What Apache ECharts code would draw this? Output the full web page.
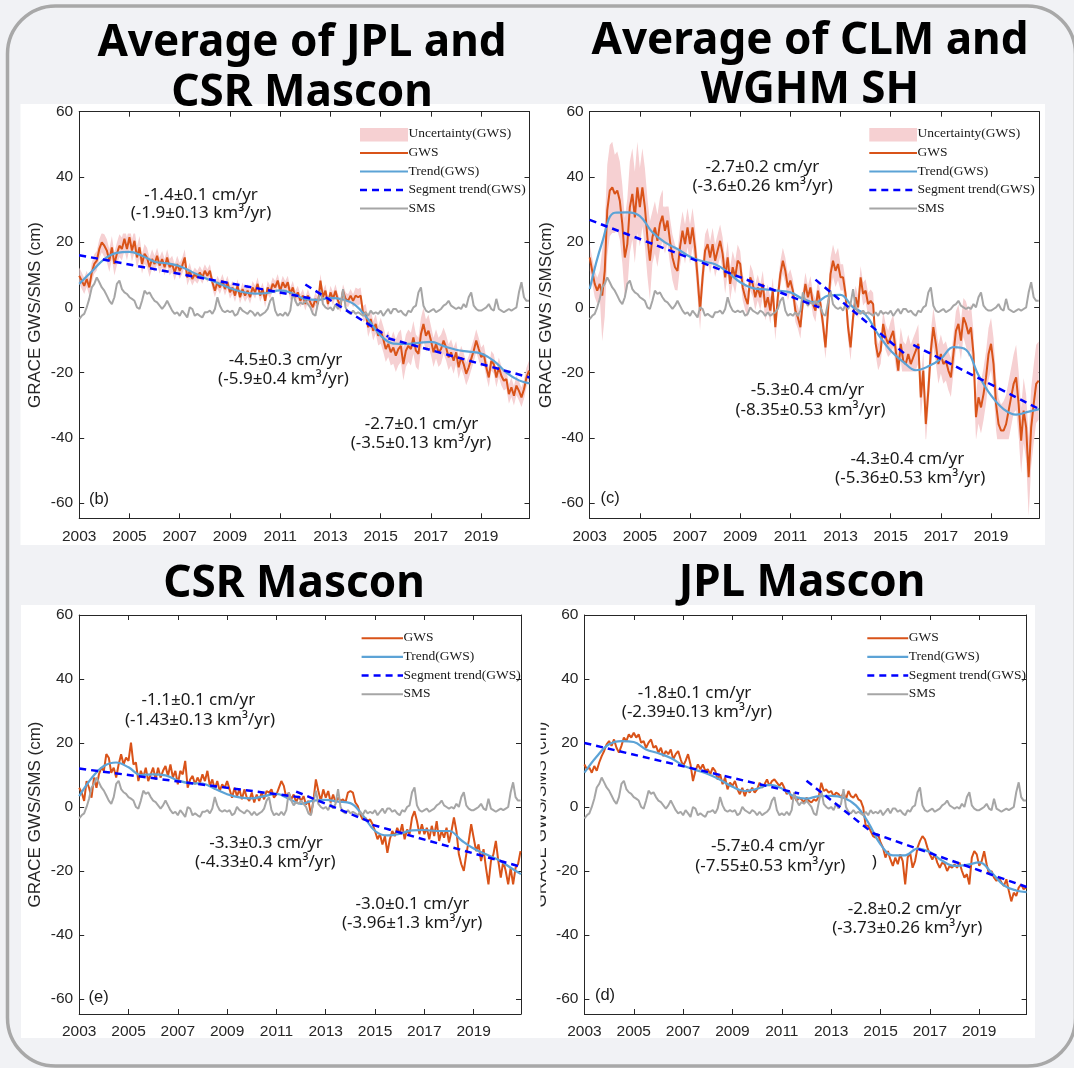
<!DOCTYPE html>
<html>
<head>
<meta charset="utf-8">
<title>GRACE GWS / SMS</title>
<script src="https://cdn.jsdelivr.net/npm/echarts@6/dist/echarts.min.js"></script>
<style>
html,body{margin:0;padding:0;background:#f1f2f5;}
#chart{width:1074px;height:1068px;}
</style>
</head>
<body>
<div id="chart"></div>
<script>
// ---------------- sampling grid (decimal years, 0.1-yr steps, 2003.0 .. 2020.9) ----------------
const years = [];
for (let i = 0; i < 180; i++) years.push(Math.round((2003 + i / 10) * 10) / 10);
const trendYears = [2003,2003.5,2004,2004.5,2005,2005.5,2006,2006.5,2007,2007.5,2008,2008.5,2009,2009.5,2010,2010.5,2011,2011.5,2012,2012.5,2013,2013.5,2014,2014.5,2015,2015.5,2016,2016.5,2017,2017.5,2018,2018.5,2019,2019.5,2020,2020.5,2020.92];
const xTickLabels = [2003,2005,2007,2009,2011,2013,2015,2017,2019];
const yTickLabels = [-60,-40,-20,0,20,40,60];

// ---------------- GWS (cm) ----------------
const gwsAvgMascon = [
 9.7,8.2,6.6,8.7,6.1,10.7,13.3,14.3,17.9,19.9,
 18.9,17.4,14.3,18.4,13.3,16.4,18.9,17.9,21.0,17.9,
 21.5,17.4,20.4,15.3,18.4,13.3,16.4,15.3,12.3,14.8,
 13.3,15.8,12.8,14.8,12.3,15.3,12.3,13.3,10.7,13.3,
 11.2,12.8,15.3,9.2,11.2,8.7,10.2,9.2,10.7,9.2,
 11.2,9.7,11.2,7.7,5.1,7.7,6.1,8.2,5.6,7.7,
 4.6,6.1,3.6,6.6,3.1,5.6,3.6,5.1,3.1,6.1,
 4.6,7.2,3.6,5.6,2.0,6.1,4.6,7.2,6.1,8.2,
 5.1,7.7,6.1,7.7,4.1,6.1,3.1,4.6,2.0,3.6,
 1.0,3.6,1.5,0.0,2.6,1.0,8.2,3.1,5.1,1.0,
 4.6,2.6,5.1,2.0,0.5,5.1,2.6,2.0,3.6,2.0,
 3.6,3.1,3.6,-2.0,-1.5,-6.1,-3.6,-7.2,-5.1,-8.7,
 -7.2,-9.7,-12.8,-11.2,-13.8,-12.3,-14.8,-12.8,-11.8,-17.4,
 -13.3,-11.8,-12.8,-9.2,-13.3,-14.3,-8.2,-5.1,-8.7,-7.2,
 -10.2,-13.8,-11.2,-13.8,-12.8,-10.2,-12.3,-15.3,-13.8,-16.4,
 -13.8,-18.4,-15.3,-17.4,-20.4,-18.4,-15.8,-13.3,-10.2,-12.8,
 -15.3,-14.3,-18.4,-21.5,-16.4,-17.4,-21.5,-18.4,-21.0,-22.5,
 -22.0,-26.6,-24.5,-27.1,-24.0,-25.6,-27.6,-25.1,-21.5,-19.4
];
const gwsClmWghm = [
 15.3,11.2,7.2,5.1,7.2,3.6,11.2,29.7,35.8,36.8,
 34.8,35.8,32.7,25.6,15.3,19.4,30.7,34.8,27.6,36.8,
 30.7,36.8,30.7,21.5,14.3,21.5,24.5,20.4,25.6,28.1,
 23.5,26.6,20.4,15.3,12.3,11.2,18.4,23.5,19.4,24.5,
 19.4,24.5,18.4,9.2,-1.0,9.2,17.4,19.4,15.3,19.4,
 14.3,17.4,20.4,16.4,9.2,15.3,7.2,12.3,9.2,14.3,
 13.3,6.1,3.1,1.0,9.2,7.2,3.1,6.1,3.1,7.2,
 0.0,3.1,-1.0,5.1,-6.1,3.1,10.2,14.3,11.2,6.1,
 8.2,5.1,-1.0,-3.1,-6.1,2.0,7.2,3.1,6.1,1.0,
 -1.0,5.1,1.0,-5.1,-12.3,-1.0,10.2,14.3,11.2,13.3,
 9.2,9.2,4.1,-6.1,-12.3,-3.1,3.1,0.0,9.2,4.1,
 5.1,1.0,2.0,1.0,-11.2,-15.3,-13.3,-5.1,-9.2,-11.2,
 -9.2,-7.2,-13.3,-19.4,-11.2,-16.4,-17.4,-14.3,-17.4,-15.3,
 -13.3,-11.2,-27.6,-19.4,-35.8,-25.6,-13.3,-6.1,-11.2,-17.4,
 -14.3,-17.4,-16.4,-19.4,-21.5,-14.3,-7.2,-5.1,-10.2,-3.1,
 -5.1,-8.2,-6.1,-14.3,-33.7,-27.6,-30.7,-26.6,-21.5,-14.3,
 -11.2,-17.4,-29.7,-35.8,-37.8,-37.8,-35.8,-31.7,-27.6,-23.5,
 -21.5,-29.7,-40.9,-31.7,-36.8,-52.1,-36.8,-29.7,-23.5,-22.5
];
const gwsCsrMascon = [
 6.0,4.5,1.9,8.1,6.0,2.9,9.2,6.0,10.2,12.3,
 11.3,16.5,15.4,10.7,12.3,9.2,13.3,16.5,13.3,15.4,
 14.4,20.1,13.3,13.9,8.1,11.3,9.2,12.3,8.1,10.2,
 12.3,8.6,12.3,9.2,11.3,12.8,9.7,13.3,9.2,11.3,
 7.1,11.3,10.2,14.4,6.0,8.6,9.7,7.1,9.2,7.6,
 10.2,8.1,11.3,6.6,8.6,5.5,8.1,5.0,7.1,6.0,
 8.1,5.5,2.9,6.0,3.4,5.5,2.4,5.5,2.9,1.9,
 4.5,1.4,3.9,1.9,4.5,2.4,5.0,4.5,5.5,2.9,
 3.9,6.0,8.1,6.6,2.9,4.5,2.4,3.9,1.4,3.4,
 1.9,3.4,0.8,1.9,-2.3,1.9,8.6,5.0,1.9,5.5,
 2.9,5.0,1.4,3.9,1.4,2.9,1.9,2.4,1.4,4.5,
 5.0,4.5,1.4,0.3,-2.3,-3.9,-3.3,-4.4,-3.9,-5.4,
 -7.5,-10.1,-8.5,-11.7,-9.1,-14.3,-10.1,-7.5,-9.1,-6.5,
 -8.5,-5.4,-10.1,-7.0,-8.5,-3.3,-1.3,-4.4,-8.5,-5.4,
 -8.5,-6.5,-10.1,-5.9,-9.1,-4.4,-10.6,-7.5,-9.6,-6.5,
 -11.1,-7.5,-3.3,-7.5,-14.8,-17.9,-20.0,-14.8,-10.6,-5.4,
 -9.6,-13.8,-11.7,-16.9,-13.2,-19.0,-24.2,-16.9,-14.8,-10.6,
 -16.9,-22.1,-16.9,-20.0,-24.2,-19.0,-24.2,-19.0,-17.9,-13.8
];
const gwsJplMascon = [
 13.3,11.8,12.3,10.7,12.8,11.3,13.9,15.9,17.5,19.6,
 20.6,19.1,21.1,18.5,17.0,19.1,21.7,20.6,22.7,21.7,
 23.2,21.7,22.7,20.1,20.6,18.5,20.1,21.1,18.5,19.1,
 17.0,18.5,15.9,17.5,16.5,18.0,14.9,16.5,17.5,14.9,
 12.8,14.4,16.5,13.3,8.1,11.3,13.3,11.8,13.3,11.3,
 11.8,10.2,12.3,11.3,8.6,10.2,7.1,9.2,5.5,7.6,
 6.6,8.1,5.5,4.0,6.0,3.4,5.5,4.5,6.0,4.5,
 5.5,7.6,6.0,7.1,8.6,6.6,8.1,8.6,7.6,6.6,
 7.6,6.0,4.0,5.0,2.4,3.4,1.9,2.9,2.4,1.4,
 2.9,1.9,1.4,2.4,1.9,3.4,7.6,5.0,5.5,4.5,
 5.0,3.4,4.5,4.0,2.9,4.5,2.4,5.0,3.4,2.9,
 4.0,2.4,1.9,-0.2,-5.9,-5.9,-7.5,-9.1,-9.6,-8.5,
 -11.1,-12.7,-15.8,-13.8,-16.4,-18.4,-15.8,-17.9,-14.8,-16.9,
 -24.2,-15.8,-14.3,-19.0,-16.9,-12.7,-10.6,-9.1,-10.1,-12.7,
 -14.8,-16.4,-14.8,-17.4,-19.0,-17.4,-17.9,-20.0,-18.4,-19.0,
 -17.9,-19.0,-17.4,-20.0,-22.1,-21.0,-24.2,-15.8,-13.8,-14.8,
 -18.4,-16.9,-13.8,-17.9,-21.0,-20.0,-22.1,-23.1,-22.1,-23.6,
 -24.7,-22.6,-26.2,-29.5,-26.8,-27.8,-25.2,-24.2,-25.7,-25.2
];

// ---------------- SMS (cm), same in every panel ----------------
const sms = [
 -3.6,-2.6,-2.0,0.0,2.6,6.1,7.2,9.2,7.7,6.1,
 5.1,3.6,2.0,1.0,3.1,7.2,8.2,5.6,4.6,4.1,
 3.1,2.6,2.0,0.0,-0.5,2.0,5.1,4.1,4.6,3.1,
 2.0,1.5,0.5,-0.5,0.5,2.0,0.5,-1.0,-2.0,-1.5,
 -2.6,-1.0,-2.0,-3.1,0.0,-0.5,-2.6,-2.0,-2.6,-3.1,
 -1.5,-1.5,-1.0,-2.0,-0.5,3.1,0.5,-1.0,-1.5,-1.0,
 -1.5,-1.0,-2.6,-2.0,0.0,-1.0,-1.5,-2.0,-1.0,-1.5,
 -2.6,-1.5,-2.6,-2.0,-1.5,-0.5,2.0,3.1,-1.0,-2.6,
 -2.0,-2.6,-1.5,-2.6,-1.0,4.6,2.0,0.5,1.5,1.0,
 2.0,1.0,0.0,-2.0,-2.6,1.5,5.1,1.0,0.0,-0.5,
 0.0,-1.0,1.0,-0.5,1.0,5.6,0.0,-1.5,-2.0,-1.0,
 -2.0,-1.5,-2.0,-2.6,-1.5,-2.6,-1.0,-2.0,-1.5,-2.0,
 -1.0,-2.6,-1.5,-0.5,-2.0,-0.5,-0.5,-1.5,-1.0,-2.0,
 -2.6,-1.0,-1.5,0.0,0.5,4.6,6.1,0.5,-1.0,-1.5,
 -1.0,-0.5,-1.5,-1.0,-0.5,0.5,1.0,2.0,0.5,0.0,
 -0.5,0.0,-0.5,1.0,0.0,3.1,4.6,0.5,-0.5,-1.0,
 -1.0,-0.5,0.0,1.0,-0.5,-1.0,2.6,-0.5,-1.0,-1.5,
 -1.0,-0.5,-1.0,-0.5,0.0,4.6,7.7,3.1,2.0,2.0
];

// ---------------- Trend(GWS) (cm) at trendYears ----------------
const trendAvgMascon = [7.2,11.0,14.8,16.7,17.0,15.8,14.0,13.5,12.6,10.8,9.0,7.5,5.9,4.7,4.2,4.4,5.2,4.3,2.5,2.3,2.9,2.4,0.6,-3.7,-8.7,-11.1,-11.2,-10.9,-10.6,-11.9,-13.0,-13.6,-14.2,-16.4,-20.0,-22.4,-23.3];
const trendClmWghm = [5.6,20.0,29.0,29.1,28.0,23.0,19.9,17.9,15.5,14.1,13.2,10.8,7.7,5.9,5.5,5.1,4.6,2.6,1.5,3.6,3.8,0.0,-2.3,-8.3,-13.3,-16.7,-19.3,-18.1,-15.8,-12.2,-13.0,-20.8,-27.0,-31.2,-32.9,-32.0,-31.2];
const trendCsrMascon = [3.4,9.0,12.8,13.9,12.4,10.0,10.2,9.9,8.3,7.4,7.3,5.7,4.0,3.0,2.7,3.4,4.1,2.6,1.0,2.0,2.2,1.7,1.2,-2.6,-7.5,-8.9,-8.4,-7.3,-7.2,-7.5,-7.5,-10.4,-13.0,-14.8,-16.5,-19.0,-21.0];
const trendJplMascon = [10.7,15.8,19.6,20.6,20.3,18.0,16.8,15.3,13.0,11.6,10.3,8.5,6.3,5.0,5.7,6.9,5.8,3.3,2.6,3.4,3.5,2.9,0.5,-4.8,-11.7,-15.1,-15.1,-13.0,-14.1,-16.8,-18.4,-18.1,-17.3,-20.5,-24.5,-26.1,-26.6];

// ---------------- Segment trend(GWS): [year, cm] start / end of each segment ----------------
const segStartAvgMascon = [[2003.0,16.0],[2012.0,7.0],[2015.3,-9.5]];
const segEndAvgMascon   = [[2012.2,2.8],[2015.3,-9.0],[2020.92,-21.5]];
const segStartClmWghm   = [[2003.0,26.8],[2012.0,8.5],[2015.9,-11.5]];
const segEndClmWghm     = [[2012.15,0.0],[2015.6,-14.5],[2020.92,-31.2]];
const segStartCsrMascon = [[2003.0,12.0],[2011.8,4.8],[2014.9,-5.6]];
const segEndCsrMascon   = [[2012.0,3.0],[2014.9,-5.0],[2020.92,-18.7]];
const segStartJplMascon = [[2003.0,20.0],[2012.0,8.2],[2014.7,-8.2]];
const segEndJplMascon   = [[2011.7,4.2],[2014.7,-8.2],[2020.92,-25.0]];

// ---------------- Uncertainty half-width (cm), one value per half year from 2003.0 ----------------
const uncAvgMascon = [2.5,3,3.5,3.5,3.5,3,2.5,2.5,2.5,2,2,2,2,2,2,2,2,2,2,2,2,2,2.5,3,4,5,5,5,4.5,4,3.5,3.5,3,3,3,3];
const uncClmWghm   = [4,14,12,14,12,8,7,6,6,5,5,5,4,4,4,4,3.5,3.5,3.5,5,4,3.5,3.5,4,5,6,6,6,6,6,7,8,8,9,10,12];

// ---------------- styling ----------------
const C_GWS = '#d95319', C_TREND = '#5ca3d6', C_SEG = '#0000ff', C_SMS = '#a6a6a6', C_BAND = '#f6d0d2';
const C_AXIS = '#262626', C_TEXT = '#1a1a1a';
const X_MIN = 2003, X_MAX = 2020.92, Y_MIN = -64.7, Y_MAX = 60;

const panels = [
  { grid:{left:79.2, top:111.7, width:450.3, height:406.6},
    gws:gwsAvgMascon, trend:trendAvgMascon, segS:segStartAvgMascon, segE:segEndAvgMascon, unc:uncAvgMascon,
    yName:'GRACE GWS/SMS (cm)',
    legend:{x0:360, x1:408, rows:[133.5,152.5,171,189.5,208]},
    tag:{text:'(b)', x:99, y:499},
    notes:[['-1.4±0.1 cm/yr',201,195],['(-1.9±0.13 km³/yr)',201,213.5],
           ['-4.5±0.3 cm/yr',285.5,360.5],['(-5.9±0.4 km³/yr)',283.5,379.5],
           ['-2.7±0.1 cm/yr',421.5,424],['(-3.5±0.13 km³/yr)',421,443.3]],
    boxes:[[98,176,182,57.5]] },
  { grid:{left:589.7, top:111.7, width:449.5, height:406.6},
    gws:gwsClmWghm, trend:trendClmWghm, segS:segStartClmWghm, segE:segEndClmWghm, unc:uncClmWghm,
    yName:'GRACE GWS /SMS(cm)',
    legend:{x0:869.3, x1:917, rows:[133.5,152.5,171,189.5,208]},
    tag:{text:'(c)', x:610, y:498.5},
    notes:[['-2.7±0.2 cm/yr',762.3,166.7],['(-3.6±0.26 km³/yr)',762.7,186],
           ['-5.3±0.4 cm/yr',807.5,390.5],['(-8.35±0.53 km³/yr)',810.5,410],
           ['-4.3±0.4 cm/yr',907.3,459.3],['(-5.36±0.53 km³/yr)',910.2,478.5]],
    boxes:[[663,148,197,58.5],[730,371.6,189,48],[826,439.3,193,52]] },
  { grid:{left:79.2, top:615, width:441.8, height:399},
    gws:gwsCsrMascon, trend:trendCsrMascon, segS:segStartCsrMascon, segE:segEndCsrMascon, unc:null,
    yName:'GRACE GWS/SMS (cm)',
    legend:{x0:361.6, x1:403, rows:[637.7,656.3,675,693.7]},
    tag:{text:'(e)', x:98.7, y:997.3},
    notes:[['-1.1±0.1 cm/yr',198.3,700],['(-1.43±0.13 km³/yr)',200,720],
           ['-3.3±0.3 cm/yr',266,843],['(-4.33±0.4 km³/yr)',265.3,862],
           ['-3.0±0.1 cm/yr',412.4,904],['(-3.96±1.3 km³/yr)',412.2,923.3]],
    boxes:[] },
  { grid:{left:584.4, top:615, width:442.2, height:399},
    gws:gwsJplMascon, trend:trendJplMascon, segS:segStartJplMascon, segE:segEndJplMascon, unc:null,
    yName:'GRACE GWS/SMS (cm)',
    legend:{x0:867.3, x1:908.2, rows:[637.7,656.3,675,693.7]},
    tag:{text:'(d)', x:605, y:995},
    notes:[['-1.8±0.1 cm/yr',694.5,693.3],['(-2.39±0.13 km³/yr)',696.9,712.3],
           ['-5.7±0.4 cm/yr',767.8,846.5],['(-7.55±0.53 km³/yr)',770.3,865.7],[')',874.3,862.5],
           ['-2.8±0.2 cm/yr',904.7,909],['(-3.73±0.26 km³/yr)',907.3,928.3]],
    boxes:[] }
];

const titles = [
  {lines:['Average of JPL and','CSR Mascon'], x:302, y:[43.5,93.5]},
  {lines:['Average of CLM and','WGHM SH'], x:810, y:[41,90]},
  {lines:['CSR Mascon'], x:294, y:[584.5]},
  {lines:['JPL Mascon'], x:802, y:[583.5]}
];

const pairs = (xs, ys) => xs.map((x, i) => [x, ys[i]]);

const grids = [], xAxes = [], yAxes = [], series = [];
const graphics = [];

// page furniture: white figure panels and rounded frame
graphics.push({type:'rect', shape:{x:20.5, y:104, width:1024.5, height:441}, style:{fill:'#ffffff'}, z:-10, silent:true});
graphics.push({type:'rect', shape:{x:21, y:605, width:1014, height:433}, style:{fill:'#ffffff'}, z:-10, silent:true});
graphics.push({type:'rect', shape:{x:7.5, y:6, width:1068, height:1060, r:48}, style:{fill:'none', stroke:'#a8a8a8', lineWidth:3.5}, z:-9, silent:true});

const axisLineStyle = {color:C_AXIS, width:1};
const labelFont = {color:C_AXIS, fontSize:15.5, fontFamily:'"Liberation Sans", Arial, sans-serif'};
const plainNumber = v => String(v);

panels.forEach((p, k) => {
  grids.push({left:p.grid.left, top:p.grid.top, width:p.grid.width, height:p.grid.height, containLabel:false});
  // bottom + top x axes
  xAxes.push({gridIndex:k, type:'value', min:X_MIN, max:X_MAX, position:'bottom',
    axisLine:{show:true, onZero:false, lineStyle:axisLineStyle},
    axisTick:{show:true, inside:true, length:5, customValues:xTickLabels, lineStyle:axisLineStyle},
    axisLabel:Object.assign({show:true, margin:10, customValues:xTickLabels, formatter:plainNumber}, labelFont),
    splitLine:{show:false}});
  xAxes.push({gridIndex:k, type:'value', min:X_MIN, max:X_MAX, position:'top',
    axisLine:{show:true, onZero:false, lineStyle:axisLineStyle},
    axisTick:{show:true, inside:true, length:5, customValues:xTickLabels, lineStyle:axisLineStyle},
    axisLabel:{show:false}, splitLine:{show:false}});
  // left + right y axes
  yAxes.push({gridIndex:k, type:'value', min:Y_MIN, max:Y_MAX, position:'left',
    name:p.yName, nameLocation:'middle', nameGap:35,
    nameTextStyle:{color:C_AXIS, fontSize:17, fontFamily:'"Liberation Sans", Arial, sans-serif'},
    axisLine:{show:true, onZero:false, lineStyle:axisLineStyle},
    axisTick:{show:true, inside:true, length:5, customValues:yTickLabels, lineStyle:axisLineStyle},
    axisLabel:Object.assign({show:true, margin:6, customValues:yTickLabels, formatter:plainNumber}, labelFont),
    splitLine:{show:false}});
  yAxes.push({gridIndex:k, type:'value', min:Y_MIN, max:Y_MAX, position:'right',
    axisLine:{show:true, onZero:false, lineStyle:axisLineStyle},
    axisTick:{show:true, inside:true, length:5, customValues:yTickLabels, lineStyle:axisLineStyle},
    axisLabel:{show:false}, splitLine:{show:false}});

  const xi = 2 * k, yi = 2 * k;

  if (p.unc) {
    const gws = p.gws, unc = p.unc;
    series.push({
      type:'custom', name:'Uncertainty(GWS)', xAxisIndex:xi, yAxisIndex:yi, z:1, silent:true, clip:true,
      data:[[2010, 0]], encode:{x:0, y:1},
      renderItem:(params, api) => {
        const pts = [];
        for (let i = 0; i < years.length; i++) pts.push(api.coord([years[i], gws[i] + unc[Math.floor(i / 5)]]));
        for (let i = years.length - 1; i >= 0; i--) pts.push(api.coord([years[i], gws[i] - unc[Math.floor(i / 5)]]));
        const cs = params.coordSys;
        return {type:'polygon', shape:{points:pts}, style:{fill:C_BAND},
                clipPath:{type:'rect', shape:{x:cs.x, y:cs.y, width:cs.width, height:cs.height}}};
      }
    });
  }
  series.push({type:'line', name:'GWS', xAxisIndex:xi, yAxisIndex:yi, data:pairs(years, p.gws),
    symbol:'none', showSymbol:false, lineStyle:{color:C_GWS, width:2}, z:3, silent:true});
  series.push({type:'line', name:'Trend(GWS)', xAxisIndex:xi, yAxisIndex:yi, data:pairs(trendYears, p.trend),
    symbol:'none', showSymbol:false, smooth:0.4, lineStyle:{color:C_TREND, width:2.2}, z:4, silent:true});
  p.segS.forEach((s, j) => {
    series.push({type:'line', name:'Segment trend(GWS)', xAxisIndex:xi, yAxisIndex:yi, data:[s, p.segE[j]],
      symbol:'none', showSymbol:false, lineStyle:{color:C_SEG, width:2.5, type:[7,5]}, z:5, silent:true});
  });
  series.push({type:'line', name:'SMS', xAxisIndex:xi, yAxisIndex:yi, data:pairs(years, sms),
    symbol:'none', showSymbol:false, lineStyle:{color:C_SMS, width:2}, z:4, silent:true});

  // white boxes behind annotations (hide part of the band, as in the source figure)
  p.boxes.forEach(b => graphics.push({type:'rect', shape:{x:b[0], y:b[1], width:b[2], height:b[3]}, style:{fill:'#ffffff'}, z:2, silent:true}));

  // legend (drawn manually to match MATLAB style)
  const L = p.legend;
  const items = [];
  if (p.unc) items.push({label:'Uncertainty(GWS)', patch:true});
  items.push({label:'GWS', color:C_GWS, width:2});
  items.push({label:'Trend(GWS)', color:C_TREND, width:2.2});
  items.push({label:'Segment trend(GWS)', color:C_SEG, width:2.5, dash:[7,5]});
  items.push({label:'SMS', color:C_SMS, width:2});
  items.forEach((it, r) => {
    const y = L.rows[r];
    if (it.patch) {
      graphics.push({type:'rect', shape:{x:L.x0, y:y - 5.5, width:L.x1 - L.x0, height:13.4}, style:{fill:C_BAND}, z:10, silent:true});
    } else {
      graphics.push({type:'line', shape:{x1:L.x0, y1:y + 0.5, x2:L.x1, y2:y + 0.5},
        style:{stroke:it.color, lineWidth:it.width, lineDash:it.dash || null}, z:10, silent:true});
    }
    graphics.push({type:'text', x:L.x1 + 0.5, y:y, z:10, silent:true,
      style:{text:it.label, fill:C_TEXT, fontSize:13.5, fontFamily:'"Liberation Serif", "Times New Roman", serif',
             align:'left', textAlign:'left', verticalAlign:'middle', textVerticalAlign:'middle'}});
  });

  // annotations
  p.notes.forEach(n => graphics.push({type:'text', x:n[1], y:n[2], z:10, silent:true,
    style:{text:n[0], fill:C_TEXT, fontSize:17, fontFamily:'"Noto Sans", sans-serif',
           align:'center', textAlign:'center', verticalAlign:'middle', textVerticalAlign:'middle'}}));
  graphics.push({type:'text', x:p.tag.x, y:p.tag.y, z:10, silent:true,
    style:{text:p.tag.text, fill:C_TEXT, fontSize:16.5, fontFamily:'"Liberation Sans", Arial, sans-serif',
           align:'center', textAlign:'center', verticalAlign:'middle', textVerticalAlign:'middle'}});
});

// panel titles
titles.forEach(t => t.lines.forEach((line, i) => graphics.push({type:'text', x:t.x, y:t.y[i], z:10, silent:true,
  style:{text:line, fill:'#000000', fontSize:44, fontWeight:'bold', fontFamily:'"Noto Sans", sans-serif',
         align:'center', textAlign:'center', verticalAlign:'middle', textVerticalAlign:'middle'}})));

// the left part of the (d) panel's axis title is cut off in the source figure
graphics.push({type:'rect', shape:{x:529, y:606, width:11.6, height:431}, style:{fill:'#ffffff'}, z:10, silent:true});

const chart = echarts.init(document.getElementById('chart'), null, {renderer:'canvas'});
chart.setOption({
  backgroundColor:'#f1f2f5',
  animation:false,
  grid:grids,
  xAxis:xAxes,
  yAxis:yAxes,
  series:series,
  graphic:{elements:graphics}
});
</script>
</body>
</html>
